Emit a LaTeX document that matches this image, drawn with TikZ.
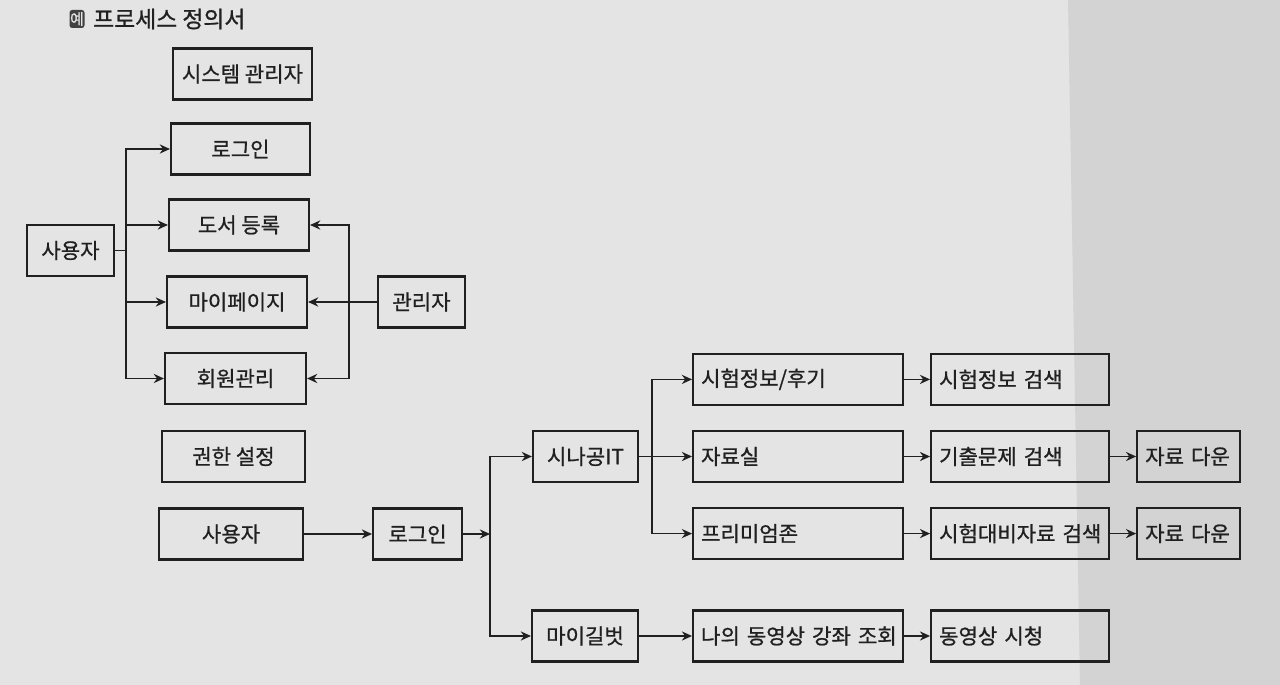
\documentclass[tikz,border=0pt]{standalone}
\usepackage{fontspec}
\setmainfont{Noto Sans CJK KR}[FakeBold=0.9]
\usepackage{tikz}
\usetikzlibrary{
    arrows.meta,      % For arrowheads like -{Stealth}
    positioning       % For placement like right=of ...
}
\definecolor{paper}{RGB}{228,228,228}
\definecolor{paperdark}{RGB}{211,211,211}
\definecolor{ink}{RGB}{32,32,32}
\tikzset{
  % Style for the process boxes (text centred)
  box/.style={
    rectangle, draw=ink, line width=1.2pt, text=ink,
    minimum height=1.02cm, inner sep=0pt,
    font=\fontsize{12}{14}\selectfont
  },
  % Style for the process boxes with text on the left
  lbox/.style={
    box, align=left, text width=#1, inner xsep=0.16cm
  },
  % Style for plain connectors
  link/.style={
    draw=ink, line width=0.95pt
  },
  % Style for arrows
  arrow/.style={
    link, -{Stealth[length=5.8pt, width=5.2pt]}
  }
}

\begin{document}
\begin{tikzpicture}[x=0.02cm, y=-0.02cm, node distance=0.52cm]
    % page
    \fill[paper] (0,0) rectangle (1280,685);
    \fill[paperdark] (1068,0) -- (1280,0) -- (1280,685) -- (1080,685) -- cycle;
    \useasboundingbox (0,0) rectangle (1280,685);

    % title
    \node[fill=ink!85, rounded corners=1.5pt, text=paper, inner sep=0pt,
          minimum width=0.3cm, minimum height=0.36cm,
          font=\fontsize{8.5}{9}\selectfont] (mark) at (77,19) {예};
    \node[right=0.16cm of mark, inner sep=0pt, text=ink,
          font=\fontsize{13}{15}\selectfont] (title) {프로세스 정의서};

    % system administrator
    \node[box, minimum width=2.78cm] (sysadmin) at (242.5,74) {시스템 관리자};
    \node[box, minimum width=2.78cm] (login) at (240.5,149) {로그인};
    \node[box, minimum width=2.8cm] (bookreg) at (239,225) {도서 등록};
    \node[box, minimum width=2.8cm] (mypage) at (237,302) {마이페이지};
    \node[box, minimum width=2.82cm] (member) at (235.5,378.5) {회원관리};
    \node[box, minimum width=1.74cm] (user) at (70.5,250.5) {사용자};
    \node[box, minimum width=1.74cm] (admin) at (421.5,302) {관리자};

    \coordinate (ujoin) at (126,250.5);
    \draw[link] (user) -- (ujoin);
    \draw[arrow] (ujoin) |- (login);
    \draw[arrow] (ujoin) |- (bookreg);
    \draw[arrow] (ujoin) |- (mypage);
    \draw[arrow] (ujoin) |- (member);

    \coordinate (ajoin) at (349,302);
    \draw[link] (admin) -- (ajoin);
    \draw[arrow] (ajoin) |- (bookreg);
    \draw[arrow] (ajoin) -- (mypage);
    \draw[arrow] (ajoin) |- (member);

    % authority setting
    \node[box, minimum width=2.86cm] (auth) at (233.5,456.5) {권한 설정};
    \node[box, minimum width=2.88cm] (user2) at (231,534) {사용자};
    \node[box, minimum width=1.78cm, right=1.36cm of user2] (login2) {로그인};
    \node[box, minimum width=2.1cm] (sinagong) at (585.5,456.5) {시나공IT};
    \node[box, minimum width=2.12cm] (mygilbut) at (585,636) {마이길벗};

    \coordinate (ljoin) at (490,534);
    \draw[arrow] (user2) -- (login2);
    \draw[arrow] (login2) -- (ljoin);
    \draw[arrow] (ljoin) |- (sinagong);
    \draw[arrow] (ljoin) |- (mygilbut);

    % menus
    \node[lbox=3.88cm, right=1.06cm of sinagong] (room) {자료실};
    \node[lbox=3.88cm, above=0.48cm of room] (exam) {시험정보/후기};
    \node[lbox=3.88cm, below=0.48cm of room] (premium) {프리미엄존};
    \node[lbox=3.88cm, right=1.06cm of mygilbut] (mylecture) {나의~동영상~강좌~조회};

    \node[lbox=3.24cm, right=of exam] (examsearch) {시험정보~검색};
    \node[lbox=3.24cm, right=of room] (pastsearch) {기출문제~검색};
    \node[lbox=3.24cm, right=of premium] (prepsearch) {시험대비자료~검색};
    \node[lbox=3.24cm, right=of mylecture] (watch) {동영상~시청};
    \node[lbox=1.74cm, right=of pastsearch] (download1) {자료~다운};
    \node[lbox=1.74cm, right=of prepsearch] (download2) {자료~다운};

    \coordinate (rjoin) at (652,456.5);
    \draw[link] (sinagong) -- (rjoin);
    \draw[arrow] (rjoin) |- (exam);
    \draw[arrow] (rjoin) -- (room);
    \draw[arrow] (rjoin) |- (premium);
    \draw[arrow] (mygilbut) -- (mylecture);

    \draw[arrow] (exam) -- (examsearch);
    \draw[arrow] (room) -- (pastsearch);
    \draw[arrow] (premium) -- (prepsearch);
    \draw[arrow] (mylecture) -- (watch);
    \draw[arrow] (pastsearch) -- (download1);
    \draw[arrow] (prepsearch) -- (download2);
\end{tikzpicture}
\end{document}
